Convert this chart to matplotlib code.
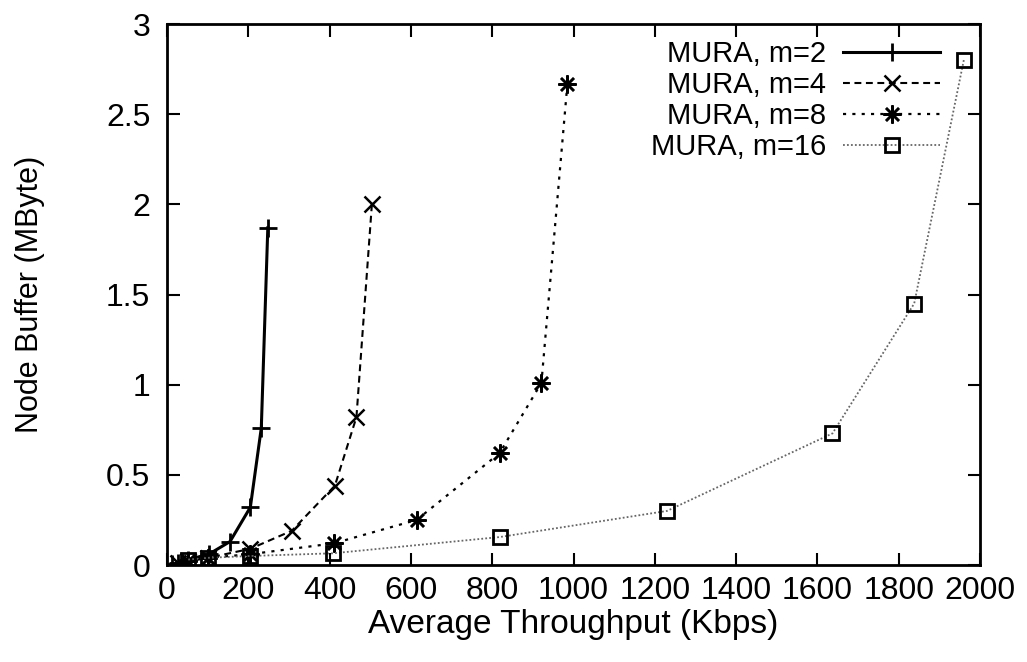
import matplotlib
matplotlib.use("Agg")
import matplotlib.pyplot as plt

plt.rcParams['font.family'] = ['Liberation Sans', 'DejaVu Sans']

# throughput (Kbps) and node buffer (MByte) for each multicast group size
thr_m2 = [248, 232, 205, 155, 103, 52, 26, 13]
buf_m2 = [1.87, 0.76, 0.32, 0.13, 0.06, 0.03, 0.01, 0.005]

thr_m4 = [504, 466, 413, 307, 205, 102, 51, 26]
buf_m4 = [2.00, 0.82, 0.44, 0.19, 0.09, 0.04, 0.02, 0.01]

thr_m8 = [985, 921, 818, 614, 410, 205, 102, 51]
buf_m8 = [2.67, 1.01, 0.62, 0.25, 0.12, 0.06, 0.04, 0.02]

thr_m16 = [1960, 1838, 1637, 1230, 818, 408, 204, 102, 51]
buf_m16 = [2.80, 1.45, 0.73, 0.30, 0.155, 0.065, 0.05, 0.04, 0.03]

labels = ['MURA, m=2', 'MURA, m=4', 'MURA, m=8', 'MURA, m=16']
xticks = [0, 200, 400, 600, 800, 1000, 1200, 1400, 1600, 1800, 2000]
yticks = [0, 0.5, 1, 1.5, 2, 2.5, 3]

fig = plt.figure(figsize=(10.27, 6.62), dpi=100)
ax = fig.add_subplot(111)
fig.subplots_adjust(left=0.1626, right=0.9543, top=0.9637, bottom=0.1465)

ax.plot(thr_m2, buf_m2, color='black', lw=2.2, marker='+', ms=13, mew=2,
        label=labels[0])
ax.plot(thr_m4, buf_m4, color='black', lw=1.5, ls=(0, (3.3, 2.2)), marker='x',
        ms=11, mew=1.8, label=labels[1])
ax.plot(thr_m8, buf_m8, color='black', lw=1.6, ls=(0, (1.4, 2.8)),
        marker=(8, 2, 0), ms=13, mew=1.8, label=labels[2])
ax.plot(thr_m16, buf_m16, color='#666666', lw=1.3, ls=(0, (1, 1.2)), marker='s',
        ms=10, mew=2, mec='black', fillstyle='none', label=labels[3])

ax.set_xlim(0, 2000)
ax.set_ylim(0, 3)
ax.set_xticks(xticks)
ax.set_yticks(yticks)
ax.set_yticklabels(['0', '0.5', '1', '1.5', '2', '2.5', '3'])

ax.tick_params(direction='in', length=9, width=1.5, top=True, right=True,
               labelsize=23)
ax.tick_params(axis='x', pad=8)
ax.tick_params(axis='y', pad=12)
for s in ax.spines.values():
    s.set_linewidth(2)

ax.set_xlabel('Average Throughput (Kbps)', fontsize=24, labelpad=2)
ax.set_ylabel('Node Buffer (MByte)', fontsize=22)
ax.yaxis.set_label_coords(-0.150, 0.5)

ax.legend(loc='upper right', bbox_to_anchor=(0.97, 1.0), frameon=False,
          markerfirst=False, fontsize=21, handlelength=3.3, handletextpad=0.6,
          labelspacing=0.1, borderaxespad=0.15, numpoints=1)

fig.savefig('out.png', dpi=100)
